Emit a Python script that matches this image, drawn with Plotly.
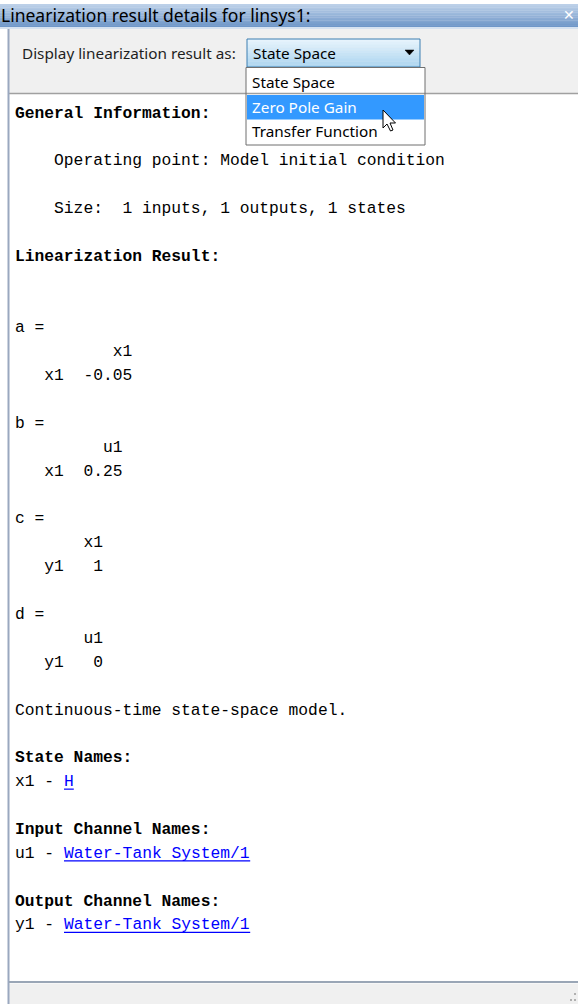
import plotly.graph_objects as go

# ---- data (text content of the dialog) ----
window_title = "Linearization result details for linsys1:"
combo_label = "Display linearization result as:"
combo_value = "State Space"
menu_items = ["State Space", "Zero Pole Gain", "Transfer Function"]
menu_selected = 1

lines = [
    "General Information:",
    "",
    "    Operating point: Model initial condition",
    "",
    "    Size:  1 inputs, 1 outputs, 1 states",
    "",
    "Linearization Result:",
    "",
    "",
    "a = ",
    "          x1",
    "   x1  -0.05",
    "",
    "b = ",
    "         u1",
    "   x1  0.25",
    "",
    "c = ",
    "       x1",
    "   y1   1",
    "",
    "d = ",
    "       u1",
    "   y1   0",
    "",
    "Continuous-time state-space model.",
    "",
    "State Names:",
    "x1 - ",
    "",
    "Input Channel Names:",
    "u1 - ",
    "",
    "Output Channel Names:",
    "y1 - ",
]
bold_lines = [0, 6, 27, 30, 33]
links = {28: "H", 31: "Water-Tank System/1", 34: "Water-Tank System/1"}

# ---- layout constants ----
W, H = 578, 1004
x0_text = 15
y0_text = 113
line_h = 23.88
char_w = 9.8
mono = "Liberation Mono, Courier New, monospace"
ui = "Noto Sans, Segoe UI, sans-serif"
ui_size = 15.3

shapes = []
ann = []

def rect(x0, y0, x1, y1, fill, line=None, lw=0):
    shapes.append(dict(type="rect", x0=x0, y0=y0, x1=x1, y1=y1, fillcolor=fill,
                       line=dict(color=line or fill, width=lw), layer="below"))

def hline(x0, x1, y, color, w=1):
    shapes.append(dict(type="line", x0=x0, x1=x1, y0=y, y1=y, line=dict(color=color, width=w)))

def vline(x, y0, y1, color, w=1):
    shapes.append(dict(type="line", x0=x, x1=x, y0=y0, y1=y1, line=dict(color=color, width=w)))

def mix(c1, c2, t):
    a = [int(c1[i:i+2], 16) for i in (1, 3, 5)]
    b = [int(c2[i:i+2], 16) for i in (1, 3, 5)]
    return "#%02x%02x%02x" % tuple(round(a[k] + (b[k]-a[k])*t) for k in range(3))

# background white
rect(0, 0, W, H, "#ffffff")

# title bar gradient
ty0, ty1 = 4, 27
n = 14
for i in range(n):
    rect(0, ty0 + (ty1-ty0)*i/n, W, ty0 + (ty1-ty0)*(i+1)/n + 0.3,
         mix("#bcd0e8", "#6f97c8", i/(n-1)))
hline(0, W, 28, "#d6e2f0", 2)

# top panel
rect(9, 29, W, 93, "#f0f0f0")
hline(9, W, 93.5, "#a0a0a0", 1.5)
# left border
vline(8.5, 29, H, "#9aa8bf", 2)

# content area bottom + status bar
hline(9, W, 982, "#9aa6b6", 2)
rect(9, 983.5, W, H, "#f0f0f0")
for (gx, gy) in [(575, 994), (571, 1000), (575, 1000)]:
    rect(gx-1, gy-1, gx+1, gy+1, "#b0b0b0")

# combo box button (gradient)
bx0, bx1, by0, by1 = 247, 420, 39, 67
m = 10
for i in range(m):
    rect(bx0, by0 + (by1-by0)*i/m, bx1, by0 + (by1-by0)*(i+1)/m + 0.3,
         mix("#e6f3fc", "#aed6f0", i/(m-1)))
shapes.append(dict(type="rect", x0=bx0, y0=by0, x1=bx1, y1=by1,
                   line=dict(color="#3c7fb1", width=1), fillcolor="rgba(0,0,0,0)"))
shapes.append(dict(type="path", path="M 405 50 L 414 50 L 409.5 55 Z",
                   fillcolor="#000000", line=dict(color="#000000", width=0.5)))

# dropdown menu
mx0, mx1, my0, my1 = 246, 425, 67.5, 145
rect(mx0, my0, mx1, my1, "#ffffff")
item_h = 24.5
rect(mx0+1, 95, mx1-1, 119.5, "#3399ff")
shapes.append(dict(type="rect", x0=mx0, y0=my0, x1=mx1, y1=my1,
                   line=dict(color="#6f6f6f", width=1), fillcolor="rgba(0,0,0,0)"))

# texts of the window chrome
ann.append(dict(x=1, y=15, text=window_title, font=dict(family=ui, size=17.5, color="#000000")))
ann.append(dict(x=563, y=15, text="<b>✕</b>", font=dict(family="DejaVu Sans", size=14, color="#ffffff")))
ann.append(dict(x=22, y=53, text=combo_label, font=dict(family=ui, size=ui_size, color="#1e1e1e")))
ann.append(dict(x=253, y=53, text=combo_value, font=dict(family=ui, size=ui_size, color="#000000")))
for i, it in enumerate(menu_items):
    ann.append(dict(x=252, y=82 + i*item_h, text=it,
                    font=dict(family=ui, size=ui_size, color="#ffffff" if i == menu_selected else "#000000")))

# body text
def nb(s):
    return s.replace(" ", "\u00a0")

for i, s in enumerate(lines):
    y = y0_text + i*line_h
    if s.strip():
        t = nb(s)
        if i in bold_lines:
            t = "<b>" + t + "</b>"
        ann.append(dict(x=x0_text, y=y, text=t, font=dict(family=mono, size=16.3, color="#000000")))
    if i in links:
        lx = x0_text + len(s)*char_w
        ann.append(dict(x=lx, y=y, text=nb(links[i]), font=dict(family=mono, size=16.3, color="#0000ff")))
        hline(lx, lx + len(links[i])*char_w, y + 7.5, "#0000ff", 1.2)

# mouse cursor
cx, cy = 383, 110
pts = [(0, 0), (0, 18), (4, 14), (7.5, 21), (10, 20), (7, 13), (12.5, 13)]
path = "M " + " L ".join(f"{cx+px} {cy+py}" for px, py in pts) + " Z"
shapes.append(dict(type="path", path=path, fillcolor="#ffffff", line=dict(color="#000000", width=1)))

for a in ann:
    a.update(xref="x", yref="y", xanchor="left", yanchor="middle", showarrow=False,
             borderpad=0, borderwidth=0)

fig = go.Figure()
fig.update_layout(
    width=W, height=H, margin=dict(l=0, r=0, t=0, b=0),
    paper_bgcolor="#ffffff", plot_bgcolor="#ffffff",
    xaxis=dict(range=[0, W], visible=False, fixedrange=True),
    yaxis=dict(range=[H, 0], visible=False, fixedrange=True),
    shapes=shapes, annotations=ann, showlegend=False,
)
fig.write_html("out.html", config={"displayModeBar": False},
               post_script="document.body.style.margin='0px';document.body.style.overflow='hidden';")
